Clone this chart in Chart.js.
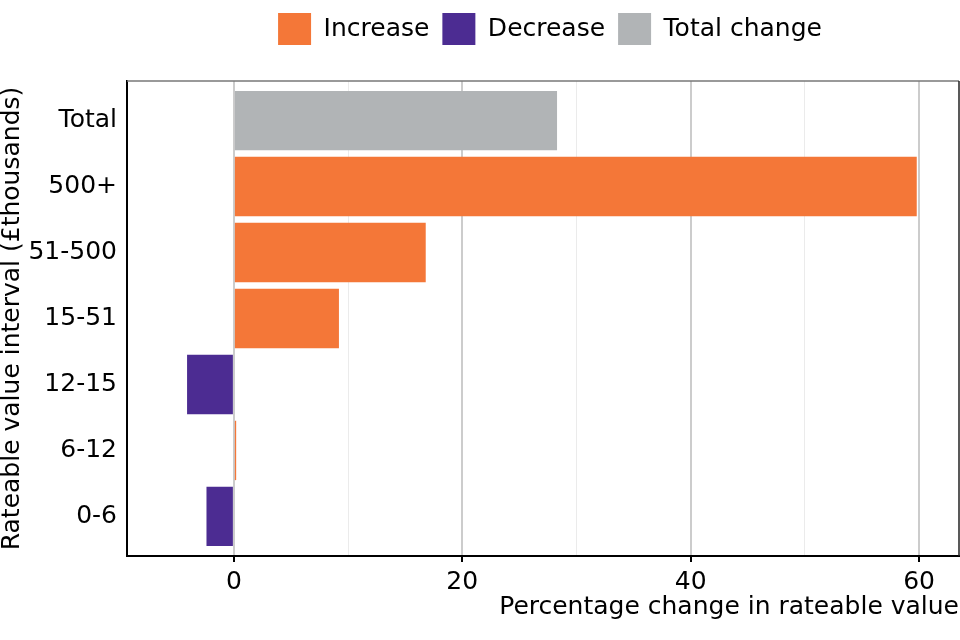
<!DOCTYPE html>
<html>
<head>
<meta charset="utf-8">
<script src="https://cdn.jsdelivr.net/npm/chart.js@4"></script>
<style>
  html, body { margin: 0; padding: 0; background: #fff; }
  #wrap { width: 960px; height: 640px; }
</style>
</head>
<body>
<div id="wrap"><canvas id="rvChart"></canvas></div>
<script>
// values
const categories = ["Total", "500+", "51-500", "15-51", "12-15", "6-12", "0-6"];
const pctChange = [28.3, 59.8, 16.8, 9.2, -4.1, 0.2, -2.4];
const xTickValues = [0, 10, 20, 30, 40, 50, 60];
const legendNames = ["Increase", "Decrease", "Total change"];

const ORANGE = "#F47738";
const PURPLE = "#4C2C92";
const GREY = "#B1B4B6";

const barColours = categories.map((c, i) =>
  c === "Total" ? GREY : pctChange[i] < 0 ? PURPLE : ORANGE
);

// top + right frame lines like the ggplot panel border
const frame = {
  id: "frame",
  afterDraw(chart) {
    const { ctx, chartArea: a } = chart;
    ctx.save();
    ctx.strokeStyle = "#777";
    ctx.lineWidth = 1.5;
    ctx.beginPath();
    ctx.moveTo(a.left, a.top);
    ctx.lineTo(a.right, a.top);
    ctx.stroke();
    ctx.strokeStyle = "#222";
    ctx.beginPath();
    ctx.moveTo(a.right, a.top);
    ctx.lineTo(a.right, a.bottom);
    ctx.stroke();
    ctx.restore();
  },
};

Chart.defaults.font.family = "'DejaVu Sans', sans-serif";
Chart.defaults.color = "#000";

const data = {
  labels: categories,
  datasets: [
    {
      label: "Percentage change",
      data: pctChange,
      backgroundColor: barColours,
      borderWidth: 0,
      barPercentage: 0.9,
      categoryPercentage: 1,
    },
  ],
};

const options = {
  indexAxis: "y",
  animation: false,
  responsive: true,
  maintainAspectRatio: false,
  layout: { padding: { left: 0, right: 1, top: 0, bottom: 0 } },
  plugins: {
    tooltip: { enabled: false },
    legend: {
      display: true,
      position: "top",
      fullSize: false,
      labels: {
        boxWidth: 33,
        boxHeight: 32,
        padding: 13,
        font: { size: 25 },
        generateLabels: () =>
          legendNames.map((n, i) => ({
            text: n,
            fillStyle: [ORANGE, PURPLE, GREY][i],
            strokeStyle: [ORANGE, PURPLE, GREY][i],
            lineWidth: 0,
            hidden: false,
            index: i,
          })),
      },
      onClick: () => {},
    },
  },
  scales: {
    x: {
      type: "linear",
      min: -9.36,
      max: 63.5,
      afterBuildTicks: (axis) => {
        axis.ticks = xTickValues.map((v) => ({ value: v }));
      },
      afterFit: (axis) => {
        axis.height = 84;
      },
      ticks: {
        font: { size: 25, lineHeight: 1 },
        padding: 8,
        autoSkip: false,
        maxRotation: 0,
        callback: (v) => (v % 20 === 0 ? String(v) : ""),
      },
      grid: {
        color: (c) => (c.tick && c.tick.value % 20 === 0 ? "#cccccc" : "#ebebeb"),
        lineWidth: (c) => (c.tick && c.tick.value % 20 === 0 ? 2 : 1),
        tickColor: (c) => (c.tick && c.tick.value % 20 === 0 ? "#000" : "rgba(0,0,0,0)"),
        tickLength: 6,
        tickWidth: 2,
      },
      border: { color: "#000", width: 2 },
      title: {
        display: true,
        text: "Percentage change in rateable value",
        align: "end",
        font: { size: 25, lineHeight: 1 },
        padding: { top: 0, bottom: 20 },
      },
    },
    y: {
      // ggplot style expansion: 0.6 of a category at each end
      afterBuildTicks: (axis) => {
        axis._startValue = -0.6;
        axis._valueRange = categories.length - 1 + 1.2;
      },
      afterFit: (axis) => {
        axis.width = 127;
      },
      ticks: { font: { size: 25 }, padding: 10 },
      grid: { display: false, drawTicks: false },
      border: { color: "#000", width: 2 },
      title: {
        display: true,
        text: "Rateable value interval (£thousands)",
        font: { size: 25, lineHeight: 1 },
        padding: { top: 0, bottom: 0 },
      },
    },
  },
};

const chart = new Chart(document.getElementById("rvChart"), {
  type: "bar",
  data: data,
  options: options,
  plugins: [frame],
});

// leave a gap under the legend and nudge it right, as in the reference
const legendFit = chart.legend.fit;
chart.legend.fit = function () {
  legendFit.call(this);
  this.height += 26;
};
const legendDraw = chart.legend.draw;
chart.legend.draw = function () {
  const ctx = this.ctx;
  ctx.save();
  ctx.translate(7, 0);
  legendDraw.call(this);
  ctx.restore();
};
chart.update();
</script>
</body>
</html>
